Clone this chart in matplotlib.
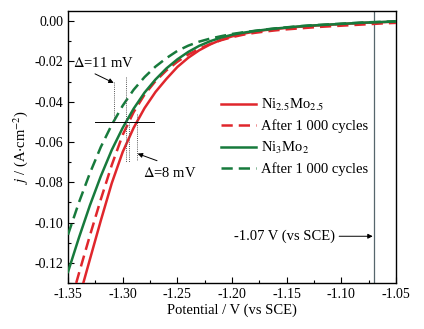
import matplotlib
matplotlib.use("Agg")
import matplotlib.pyplot as plt
from matplotlib.ticker import MultipleLocator

plt.rcParams['font.family'] = ['Liberation Serif', 'DejaVu Serif']
plt.rcParams['mathtext.fontset'] = 'stix'

# ---- data ----
potential = [-1.35, -1.34, -1.33, -1.32, -1.31, -1.30, -1.29, -1.28, -1.27, -1.26, -1.25,
             -1.24, -1.23, -1.22, -1.21, -1.20, -1.19, -1.18, -1.17, -1.16, -1.15,
             -1.14, -1.13, -1.12, -1.11, -1.10, -1.09, -1.08, -1.07, -1.06, -1.05]

# Ni3Mo2 (green solid)
j_gs = [-0.1245, -0.1075, -0.0915, -0.0770, -0.0640, -0.0530, -0.0435, -0.0355, -0.0290, -0.0235,
        -0.0190, -0.0153, -0.0123, -0.0100, -0.0082, -0.0068, -0.0058, -0.0050, -0.0043, -0.0037,
        -0.0032, -0.0027, -0.0023, -0.0020, -0.0017, -0.0014, -0.0011, -0.0008, -0.0006, -0.0004,
        -0.0002]
# Ni3Mo2 after 1 000 cycles (green dashed)
j_gd = [-0.1060, -0.0900, -0.0755, -0.0625, -0.0515, -0.0420, -0.0341, -0.0278, -0.0226, -0.0184,
        -0.0148, -0.0122, -0.0102, -0.0087, -0.0075, -0.0064, -0.0056, -0.0049, -0.0042, -0.0036,
        -0.0031, -0.0026, -0.0022, -0.0019, -0.0016, -0.0013, -0.0010, -0.0007, -0.0005, -0.0003,
        -0.0001]

# Ni2.5Mo2.5 (red solid)
v_rs = [-1.336, -1.33, -1.32, -1.31, -1.30, -1.29, -1.28, -1.27, -1.26, -1.25, -1.24, -1.23,
        -1.22, -1.21, -1.20, -1.19, -1.18, -1.17, -1.16, -1.15, -1.14, -1.13, -1.12, -1.11,
        -1.10, -1.09, -1.08, -1.07, -1.06, -1.05]
j_rs = [-0.1300, -0.1183, -0.0990, -0.0805, -0.0650, -0.0530, -0.0432, -0.0352, -0.0287, -0.0228,
        -0.0182, -0.0145, -0.0116, -0.0093, -0.0076, -0.0063, -0.0053, -0.0045, -0.0039, -0.0034,
        -0.0029, -0.0025, -0.0021, -0.0018, -0.0015, -0.0012, -0.0009, -0.0007, -0.0005, -0.0003]

# Ni2.5Mo2.5 after 1 000 cycles (red dashed)
v_rd = [-1.3425, -1.34, -1.33, -1.32, -1.31, -1.30, -1.29, -1.28, -1.27, -1.26, -1.25, -1.24,
        -1.23, -1.22, -1.21, -1.20, -1.19, -1.18, -1.17, -1.16, -1.15, -1.14, -1.13, -1.12,
        -1.11, -1.10, -1.09, -1.08, -1.07, -1.06, -1.05]
j_rd = [-0.1300, -0.1252, -0.1065, -0.0885, -0.0715, -0.0565, -0.0452, -0.0365, -0.0298, -0.0245,
        -0.0202, -0.0166, -0.0138, -0.0114, -0.0095, -0.0080, -0.0068, -0.0059, -0.0052, -0.0046,
        -0.0041, -0.0037, -0.0033, -0.0029, -0.0026, -0.0023, -0.0020, -0.0017, -0.0014, -0.0011,
        -0.0009]

labels = [r'Ni$_{2.5}$Mo$_{2.5}$', 'After 1 000 cycles', r'Ni$_{3}$Mo$_{2}$', 'After 1 000 cycles']

ref_potential = -1.07
j_mark = -0.05
# potentials at j = -0.05 for each curve (for the Δ markers)
v_cross_gd, v_cross_gs, v_cross_rd, v_cross_rs = -1.3080, -1.2968, -1.2942, -1.2869

RED = '#e0262c'
GREEN = '#177a3c'

fig = plt.figure(figsize=(4.24, 3.29), dpi=100)
ax = fig.add_axes([0.1604, 0.1398, 0.7736, 0.8268])

lw = 1.8
dash = (0, (4.5, 2.4))
ax.plot(v_rs, j_rs, color=RED, lw=lw, label=labels[0], zorder=3)
ax.plot(v_rd, j_rd, color=RED, lw=lw, ls=dash, label=labels[1], zorder=3)
ax.plot(potential, j_gs, color=GREEN, lw=lw, label=labels[2], zorder=4)
ax.plot(potential, j_gd, color=GREEN, lw=lw, ls=dash, label=labels[3], zorder=4)

# reference potential line
ax.axvline(ref_potential, color='#56666c', lw=0.9, zorder=2)
ax.annotate('-1.07 V (vs SCE)', xy=(-1.0713, -0.1068), xytext=(-1.1058, -0.1068),
            ha='right', va='center', fontsize=10.5,
            arrowprops=dict(arrowstyle='-|>', color='black', lw=0.7, mutation_scale=7,
                            shrinkA=1, shrinkB=0))

# horizontal marker at j = -0.05
ax.plot([-1.325, -1.271], [j_mark, j_mark], color='black', lw=0.7, zorder=5)
dot = dict(color='#555555', lw=0.7, ls=(0, (1, 1.2)), zorder=5)
ax.plot([v_cross_gd, v_cross_gd], [-0.030, j_mark], **dot)
ax.plot([v_cross_gs, v_cross_gs], [-0.028, -0.070], **dot)
ax.plot([v_cross_rd, v_cross_rd], [j_mark, -0.070], **dot)
ax.plot([v_cross_rs, v_cross_rs], [-0.046, -0.069], **dot)

ax.text(-1.3457, -0.0208, r'$\mathit{\Delta}$=11 mV', ha='left', va='center', fontsize=10.5)
ax.annotate('', xy=(-1.3082, -0.0307), xytext=(-1.3253, -0.0262),
            arrowprops=dict(arrowstyle='-|>', color='black', lw=0.7, mutation_scale=7,
                            shrinkA=0, shrinkB=0))
ax.text(-1.2814, -0.0752, r'$\mathit{\Delta}$=8 mV', ha='left', va='center', fontsize=10.5)
ax.annotate('', xy=(-1.2863, -0.0658), xytext=(-1.2686, -0.0693),
            arrowprops=dict(arrowstyle='-|>', color='black', lw=0.7, mutation_scale=7,
                            shrinkA=0, shrinkB=0))

ax.set_xlim(-1.35, -1.05)
ax.set_ylim(-0.13, 0.005)
ax.xaxis.set_minor_locator(MultipleLocator(0.025))
ax.yaxis.set_minor_locator(MultipleLocator(0.01))
ax.set_xticks([-1.35, -1.30, -1.25, -1.20, -1.15, -1.10, -1.05])
ax.set_xticklabels(['-1.35', '-1.30', '-1.25', '-1.20', '-1.15', '-1.10', '-1.05'])
ax.set_yticks([0.0, -0.02, -0.04, -0.06, -0.08, -0.10, -0.12])
ax.set_yticklabels(['0.00', '-0.02', '-0.04', '-0.06', '-0.08', '-0.10', '-0.12'])
ax.tick_params(which='both', direction='in', top=False, right=False, labelsize=10)
ax.tick_params(which='major', length=4.5, width=0.8)
ax.tick_params(which='minor', length=2.5, width=0.8)
for s in ax.spines.values():
    s.set_linewidth(1.0)

ax.set_xlabel('Potential / V (vs SCE)', fontsize=10.5, labelpad=2)
ax.set_ylabel(r'$\mathit{j}$ / (A$\cdot$cm$^{-2}$)', fontsize=10.5, labelpad=3)

leg = ax.legend(loc='center left', bbox_to_anchor=(0.465, 0.539), frameon=False,
                fontsize=10.5, handlelength=2.4, handletextpad=0.4, labelspacing=0.45,
                borderpad=0, borderaxespad=0)

fig.savefig('out.png', dpi=100)
